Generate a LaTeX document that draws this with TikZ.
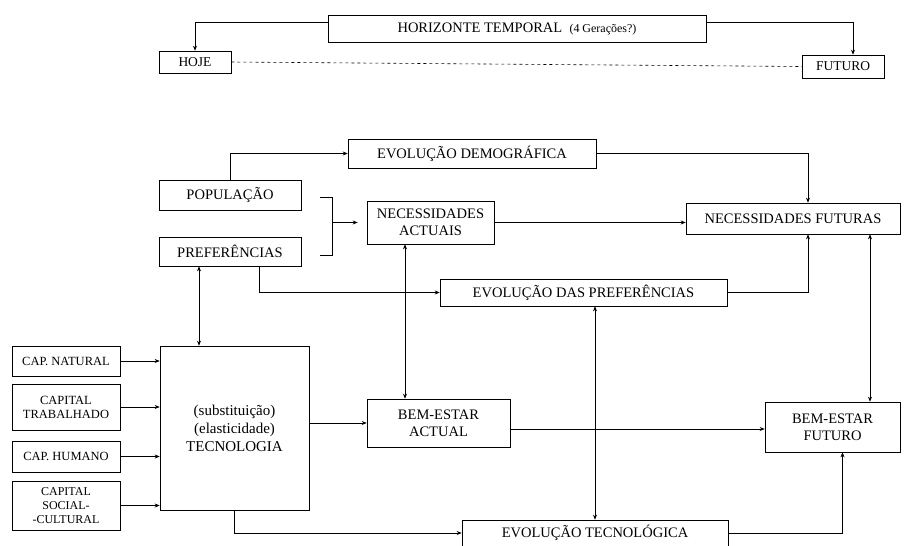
\documentclass[tikz,border=0pt]{standalone}
\usepackage{fontspec}
\setmainfont{Liberation Serif}
\usetikzlibrary{arrows.meta,positioning}

\begin{document}
\begin{tikzpicture}[
    x=1pt,y=-1pt,
    box/.style={draw,line width=0.6pt,inner sep=1pt,align=center,font=\fontsize{14.5}{17}\selectfont},
    smallbox/.style={box,font=\fontsize{12.5}{14}\selectfont},
    arrow/.style={-{Stealth[length=5pt,width=4pt]},line width=0.6pt},
    twoway/.style={{Stealth[length=5pt,width=4pt]}-{Stealth[length=5pt,width=4pt]},line width=0.6pt},
    link/.style={line width=0.6pt}
  ]
    \useasboundingbox (0,0) rectangle (905,546);
    % horizonte temporal
    \node[box,minimum width=378,minimum height=27] (horiz) at (517,28.5) {HORIZONTE TEMPORAL\ \ {\fontsize{12}{14}\selectfont(4 Gerações?)}};
    \node[smallbox,minimum width=72,minimum height=22,font=\fontsize{13.5}{15}\selectfont] (hoje) at (195,62) {HOJE};
    \node[smallbox,minimum width=82,minimum height=23,font=\fontsize{13.5}{15}\selectfont] (futuro) at (843,66.5) {FUTURO};
    \draw[arrow] ([yshift=6pt]horiz.west) -| (hoje.north);
    \draw[arrow] ([yshift=6pt]horiz.east) -| ([xshift=10pt]futuro.north);
    \draw[link,dashed] (hoje.east) -- (futuro.west);
    % populacao e preferencias
    \node[box,minimum width=248,minimum height=29] (demog) at (472,153.5) {EVOLUÇÃO DEMOGRÁFICA};
    \node[box,minimum width=142,minimum height=30] (pop) at (230,195) {POPULAÇÃO};
    \node[box,minimum width=142,minimum height=29] (pref) at (230,251.5) {PREFERÊNCIAS};
    \node[box,minimum width=127,minimum height=43] (necact) at (430.5,222.5) {NECESSIDADES\\ACTUAIS};
    \node[box,minimum width=214,minimum height=31] (necfut) at (793,218.5) {NECESSIDADES FUTURAS};
    \node[box,minimum width=287,minimum height=27] (evpref) at (583.5,292.5) {EVOLUÇÃO DAS PREFERÊNCIAS};
    \coordinate (brtop) at (320,197);
    \coordinate (brbot) at (320,255);
    \coordinate (brmid) at (332,222.5);
    \draw[link] (brtop) -- (brtop -| brmid) -- (brbot -| brmid) -- (brbot);
    \draw[arrow] (brmid) -- ([xshift=-9pt]necact.west);
    \draw[arrow] (pop.north) |- (demog.west);
    \draw[arrow] (demog.east) -| ([xshift=15pt]necfut.north);
    \draw[arrow] (necact.east) -- (necact.east -| necfut.west);
    \draw[arrow] ([xshift=29pt]pref.south) |- (evpref.west);
    \draw[arrow] (evpref.east) -| ([xshift=15pt]necfut.south);
    % capitais e tecnologia
    \node[box,minimum width=149,minimum height=164,font=\fontsize{15}{18}\selectfont] (tec) at (234.5,428) {(substituição)\\(elasticidade)\\TECNOLOGIA};
    \node[smallbox,minimum width=108,minimum height=30] (natural) at (66,361) {CAP. NATURAL};
    \node[smallbox,minimum width=108,minimum height=46] (trab) at (66,407) {CAPITAL\\TRABALHADO};
    \node[smallbox,minimum width=108,minimum height=31] (humano) at (66,456.5) {CAP. HUMANO};
    \node[smallbox,minimum width=108,minimum height=49,font=\fontsize{12}{14}\selectfont] (social) at (66,505.5) {CAPITAL\\SOCIAL-\\-CULTURAL};
    \foreach \cap in {natural,trab,humano,social}
      \draw[arrow] (\cap.east) -- (\cap.east -| tec.west);
    % bem-estar
    \node[box,minimum width=143,minimum height=48] (beact) at (438.5,423) {BEM-ESTAR\\ACTUAL};
    \node[box,minimum width=135,minimum height=50] (befut) at (832.5,427) {BEM-ESTAR\\FUTURO};
    \node[box,minimum width=266,minimum height=26] (evtec) at (595,533) {EVOLUÇÃO TECNOLÓGICA};
    \draw[twoway] ([xshift=-31pt]pref.south) -- ([xshift=-31pt]pref.south |- tec.north);
    \draw[twoway] ([xshift=-25.5pt]necact.south) -- ([xshift=-25.5pt]necact.south |- beact.north);
    \draw[twoway] (evtec.north |- evpref.south) -- (evtec.north);
    \draw[twoway] ([xshift=77pt]necfut.south) -- ([xshift=77pt]necfut.south |- befut.north);
    \draw[arrow] (tec.east |- beact.west) -- (beact.west);
    \draw[arrow] ([yshift=-6pt]beact.east) -- ([yshift=-6pt]beact.east -| befut.west);
    \draw[arrow] (tec.south) |- (evtec.west);
    \draw[arrow] (evtec.east) -| ([xshift=10pt]befut.south);
\end{tikzpicture}
\end{document}
